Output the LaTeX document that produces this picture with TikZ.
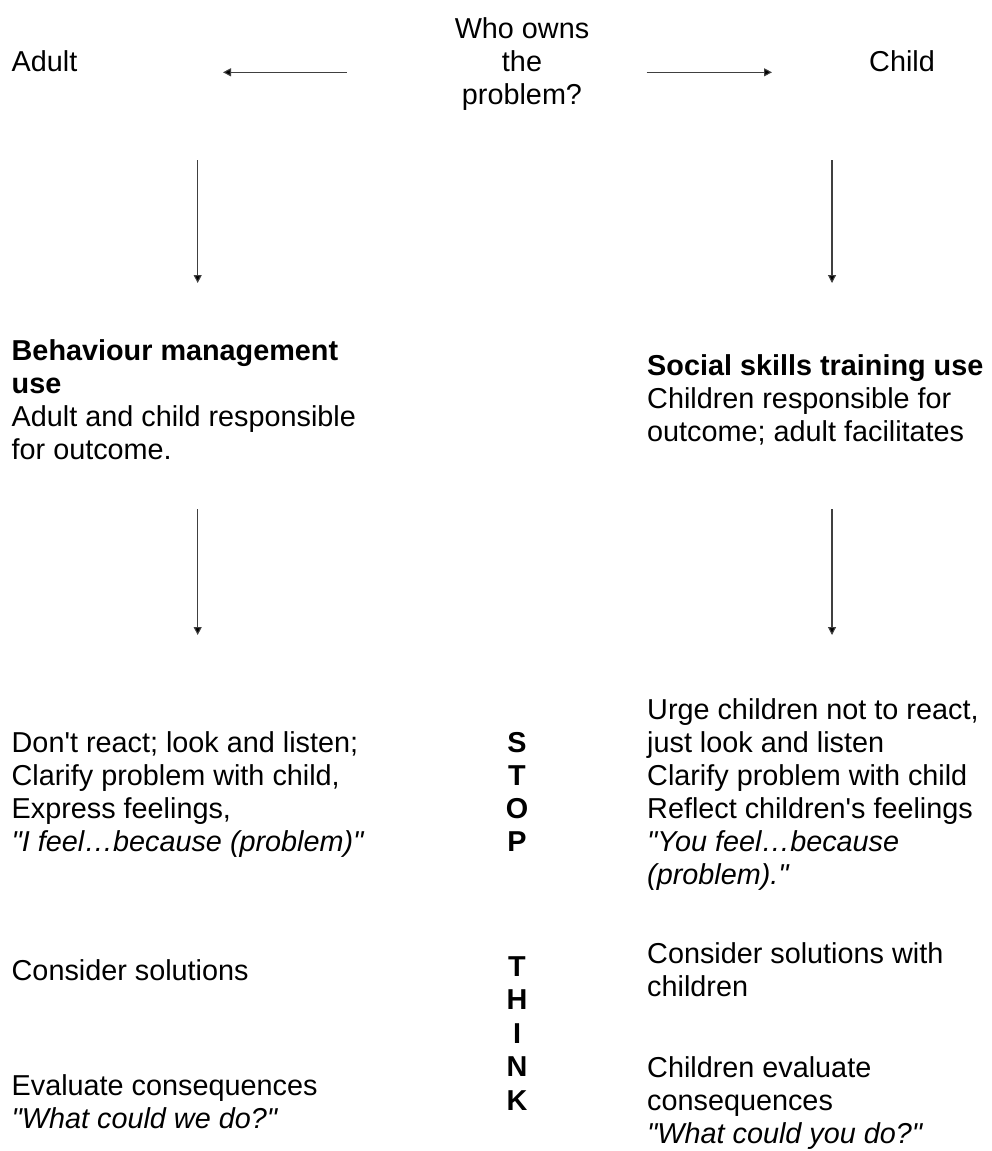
\documentclass[tikz,border=0pt]{standalone}
\usepackage{fontspec}
\newfontfamily\lsans{Liberation Sans}
\usetikzlibrary{arrows.meta}
\begin{document}
\begin{tikzpicture}[x=1pt,y=-1pt,
  txt/.style={inner sep=0pt,anchor=base west,align=left,font=\lsans\fontsize{28.8}{33}\selectfont},
  ctxt/.style={inner sep=0pt,anchor=base,align=center,font=\lsans\fontsize{28.8}{33}\selectfont},
  lett/.style={inner sep=0pt,anchor=base,align=center,font=\lsans\fontsize{28.8}{33}\selectfont\bfseries},
  arr/.style={draw=black!75,line width=1.1pt,-{Triangle[length=8pt,width=8pt,fill=black]}}]
\useasboundingbox (0,0) rectangle (991,1151);
% top row
\node[ctxt] (who) at (522,104.7) {Who owns\\the\\problem?};
\node[txt] (adult) at (11.5,71.7) {Adult};
\node[txt] (child) at (869,71.7) {Child};
\coordinate (la1) at (346.7,72.3);
\coordinate (la2) at (223,72.3);
\coordinate (ra1) at (646.7,72.3);
\coordinate (ra2) at (772,72.3);
\draw[arr] (la1) -- (la2);
\draw[arr] (ra1) -- (ra2);
% first vertical arrows
\coordinate (lv1a) at (197.7,160);
\coordinate (lv1b) at (197.7,283);
\coordinate (rv1a) at (832,160);
\coordinate (rv1b) at (832,283);
\draw[arr] (lv1a) -- (lv1b);
\draw[arr] (rv1a) -- (rv1b);
% second row
\node[txt] (bm) at (11.5,459) {\textbf{Behaviour management}\\\textbf{use}\\Adult and child responsible\\for outcome.};
\node[txt] (ss) at (647,441) {\textbf{Social skills training use}\\Children responsible for\\outcome; adult facilitates};
% second vertical arrows
\coordinate (lv2a) at (197.7,509);
\coordinate (lv2b) at (197.7,635);
\coordinate (rv2a) at (832,509);
\coordinate (rv2b) at (832,635);
\draw[arr] (lv2a) -- (lv2b);
\draw[arr] (rv2a) -- (rv2b);
% STOP section
\node[txt] (lstop) at (11.5,851) {Don't react; look and listen;\\Clarify problem with child,\\Express feelings,\\\textit{"I feel\ldots because (problem)"}};
\node[lett] (stop) at (517,851) {S\\T\\O\\P};
\node[txt] (rstop) at (647,884) {Urge children not to react,\\just look and listen\\Clarify problem with child\\Reflect children's feelings\\\textit{"You feel\ldots because}\\\textit{(problem)."}};
% THINK section
\node[txt] (lcons) at (11.5,980) {Consider solutions};
\node[txt] (leval) at (11.5,1128) {Evaluate consequences\\\textit{"What could we do?"}};
\node[lett,font=\lsans\fontsize{28.8}{33.5}\selectfont\bfseries] (think) at (517,1110) {T\\H\\I\\N\\K};
\node[txt] (rcons) at (647,996) {Consider solutions with\\children};
\node[txt] (reval) at (647,1143) {Children evaluate\\consequences\\\textit{"What could you do?"}};
\end{tikzpicture}
\end{document}
